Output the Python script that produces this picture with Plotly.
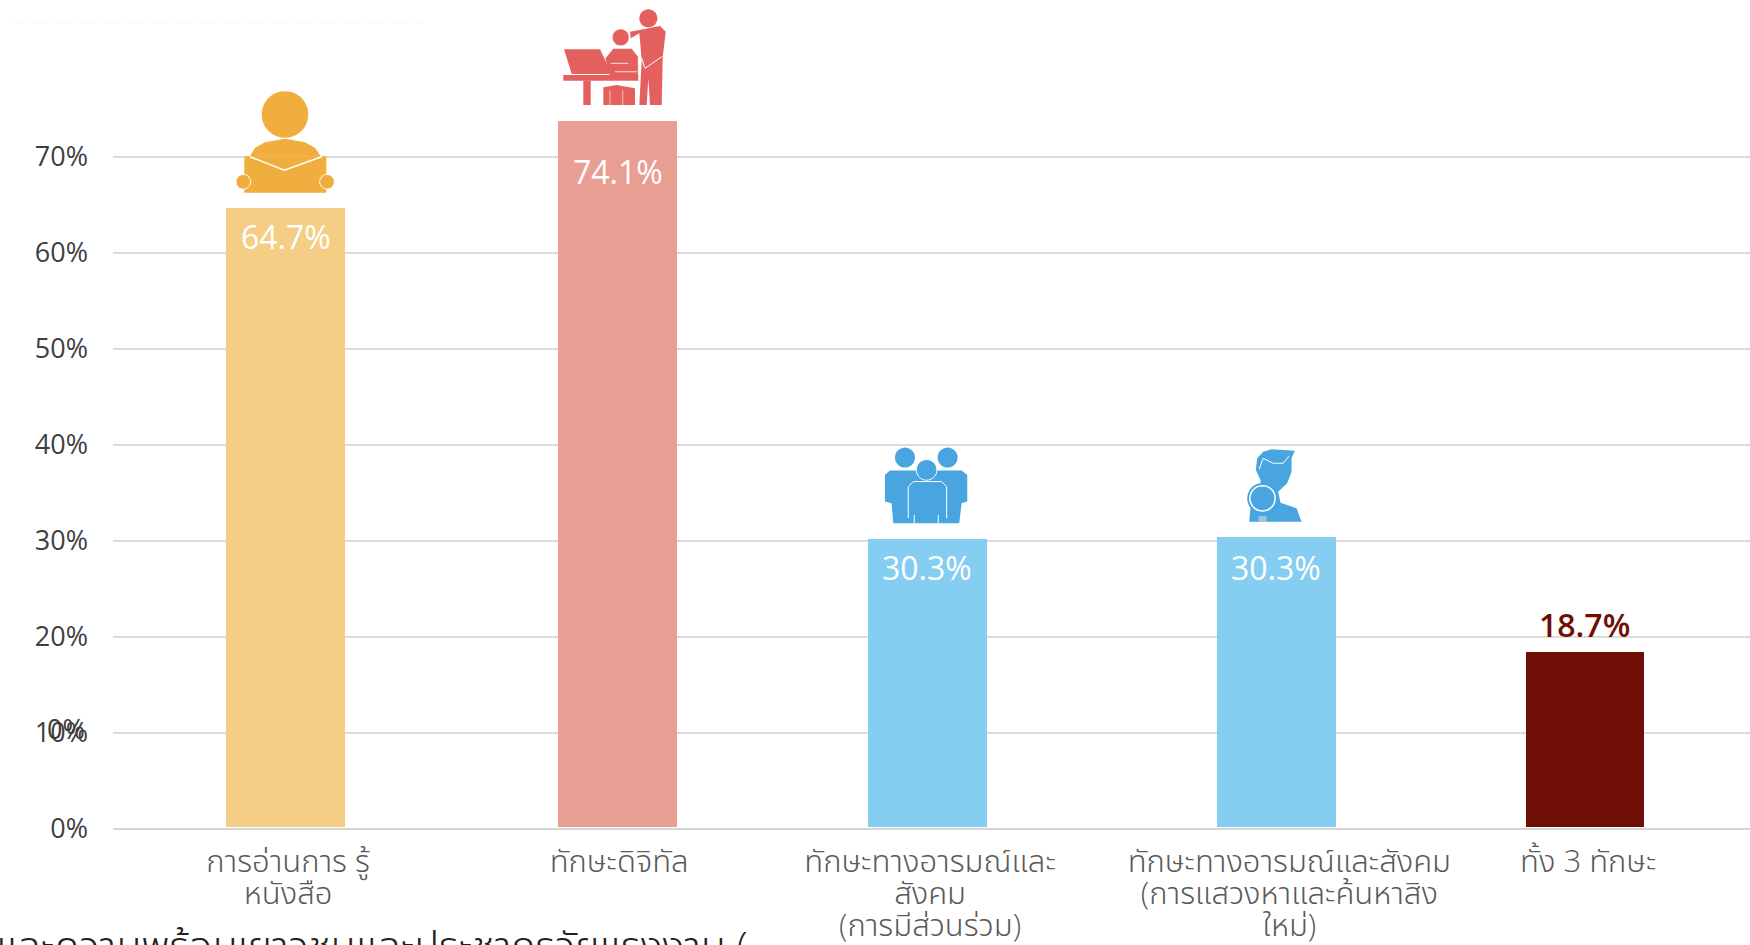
import numpy as np
import plotly.graph_objects as go

# ---------- data ----------
categories = [["การอ่านการ รู้", "หนังสือ"], ["ทักษะดิจิทัล"], ["ทักษะทางอารมณ์และ", "สังคม", "(การมีส่วนร่วม)"],
              ["ทักษะทางอารมณ์และสังคม", "(การแสวงหาและค้นหาสิง", "ใหม่)"], ["ทั้ง 3 ทักษะ"]]
value_labels = ["64.7%", "74.1%", "30.3%", "30.3%", "18.7%"]
bar_tops = [64.6, 73.7, 30.2, 30.4, 18.4]
y_ticks = [0, 10, 20, 30, 40, 50, 60, 70]
y_tick_labels = ["0%", "10%", "20%", "30%", "40%", "50%", "60%", "70%"]
slots = [0, 1.022, 1.976, 3.05, 4.0]
tick_slots = [0.008, 1.027, 1.984, 3.09, 4.01]

# ---------- style ----------
bar_colors = ["#f5cd84", "#e99e93", "#85cdf1", "#85cdf1", "#6e0e04"]
label_colors = ["#ffffff", "#ffffff", "#ffffff", "#ffffff", "#6e0e04"]
label_shifts = [-28, -50, -29, -31, 28]
label_weights = [500, 500, 500, 500, 600]
FONT = "Open Sans, Noto Sans, Noto Sans Thai, sans-serif"
BAR_GAP = 0.25
ORANGE, RED, BLUE = "#f0ae3e", "#e4605e", "#48a5e0"

fig = go.Figure(go.Bar(
    x=slots, y=np.array(bar_tops) - BAR_GAP, base=BAR_GAP, width=0.366,
    marker=dict(color=bar_colors, line=dict(width=0)), hoverinfo="skip", showlegend=False))

# ---------- value labels ----------
for x, top, txt, col, shift, wt in zip(slots, bar_tops, value_labels, label_colors, label_shifts, label_weights):
    fig.add_annotation(x=x, y=top, text=txt, showarrow=False, xanchor="center", yanchor="middle",
                       yshift=shift, font=dict(family=FONT, size=32, color=col, weight=wt))

# second "0%" printed over the 10% tick, as in the source
fig.add_annotation(xref="paper", x=0, y=10, yshift=4, xshift=-26, xanchor="right", yanchor="middle",
                   text="0%", showarrow=False, font=dict(family=FONT, size=27, color="#3a3a3a"))

# cropped caption at the bottom edge
fig.add_annotation(xref="paper", yref="paper", x=0.389, y=0, yanchor="top", xanchor="right", yshift=-86,
                   text="ทักษะและความพร้อมเยาวชนและประชากรวัยแรงงาน (", showarrow=False,
                   font=dict(family=FONT, size=41, color="#222222", weight=300))


# ---------- icons ----------
def pts_to_path(pts, origin, anchor, close=True):
    out = []
    for i, (zx, zy) in enumerate(pts):
        dx = origin[0] + zx / 3 - anchor[0]
        dy = anchor[1] - (origin[1] + zy / 3)
        out.append(f"{'M' if i == 0 else 'L'} {dx:.1f} {dy:.1f}")
    return " ".join(out) + (" Z" if close else "")


def circle(cx, cy, r):
    return [(cx + r * np.cos(t), cy + r * np.sin(t)) for t in np.linspace(0, 2 * np.pi, 36, endpoint=False)]


def rect(x0, y0, x1, y1):
    return [(x0, y0), (x1, y0), (x1, y1), (x0, y1)]


def add_icon(idx, origin, anchor, items):
    for pts, fill, stroke, sw, closed in items:
        fig.add_shape(type="path", xref="x", yref="y", xsizemode="pixel", ysizemode="pixel",
                      xanchor=slots[idx], yanchor=bar_tops[idx], layer="above",
                      path=pts_to_path(pts, origin, anchor, closed),
                      fillcolor=fill if fill else "rgba(0,0,0,0)",
                      line=dict(color=stroke if stroke else "rgba(0,0,0,0)", width=sw))


W = "#ffffff"
add_icon(0, (200, 0), (285.5, 209), [
    (circle(255, 345, 70), ORANGE, None, 0, True),
    ([(150, 470), (165, 445), (195, 428), (255, 418), (315, 428), (345, 445), (362, 470)], ORANGE, None, 0, True),
    (rect(133, 470, 379, 580), ORANGE, None, 0, True),
    (circle(130, 547, 22), ORANGE, W, 1, True),
    (circle(381, 547, 22), ORANGE, W, 1, True),
    ([(150, 472), (253, 512), (365, 472)], None, W, 1.5, False),
])
add_icon(1, (200, 0), (617.5, 121), [
    (circle(1345, 55, 27), RED, None, 0, True),
    ([(1290, 95), (1380, 78), (1397, 95), (1388, 170), (1385, 315), (1350, 315), (1345, 235), (1340, 315),
      (1318, 315), (1325, 180), (1318, 100), (1292, 115)], RED, None, 0, True),
    ([(1385, 170), (1335, 205), (1325, 175)], None, W, 1, False),
    (circle(1262, 112, 25), RED, W, 0.5, True),
    ([(1240, 145), (1295, 145), (1315, 170), (1315, 228), (1228, 228), (1215, 175)], RED, W, 0.8, True),
    ([(1092, 148), (1200, 148), (1235, 222), (1115, 222)], RED, None, 0, True),
    (rect(1090, 225, 1315, 242), RED, None, 0, True),
    (rect(1150, 242, 1172, 315), RED, None, 0, True),
    ([(1210, 262), (1250, 255), (1305, 265), (1305, 315), (1210, 315)], RED, None, 0, True),
    ([(1232, 190), (1285, 190)], None, W, 0.8, False),
    ([(1245, 215), (1310, 215)], None, W, 0.8, False),
    ([(1230, 270), (1230, 315)], None, W, 0.6, False),
    ([(1268, 270), (1268, 315)], None, W, 0.6, False),
])
add_icon(2, (850, 430), (927.5, 539), [
    (circle(165, 83, 30), BLUE, None, 0, True),
    (circle(293, 83, 30), BLUE, None, 0, True),
    ([(105, 135), (120, 122), (335, 122), (352, 135), (352, 215), (335, 220), (328, 280), (130, 280),
      (125, 220), (105, 215)], BLUE, None, 0, True),
    ([(175, 265), (175, 170), (190, 155), (275, 155), (290, 170), (290, 265)], BLUE, W, 1, False),
    ([(193, 255), (193, 280)], None, W, 1, False),
    ([(265, 255), (265, 280)], None, W, 1, False),
    (circle(230, 120, 31), BLUE, W, 1, True),
])
add_icon(3, (850, 430), (1276.5, 537), [
    ([(1218, 120), (1222, 85), (1240, 65), (1265, 58), (1335, 62), (1325, 85), (1325, 125), (1312, 160),
      (1285, 185), (1292, 218), (1340, 235), (1355, 275), (1198, 275), (1205, 200), (1232, 165), (1232, 150)],
     BLUE, None, 0, True),
    ([(1228, 118), (1240, 85), (1270, 100), (1300, 100), (1318, 78)], None, W, 1, False),
    (circle(1238, 205, 46), BLUE, None, 0, True),
    (circle(1238, 205, 38), BLUE, W, 1.5, True),
    (rect(1226, 258, 1250, 275), "#9fc5dd", None, 0, True),
])

# faint scan artefact near the top-left
fig.add_shape(type="line", xref="paper", yref="paper", x0=-0.06, x1=0.19, y0=0.972, y1=0.972,
              line=dict(color="#f9f7ee", width=1.5, dash="dot"), layer="below")

# tick text: base size sets the line spacing, the span sets the glyph size
tick_text = ["<br>".join(f'<span style="font-size:31px">{ln}</span>' for ln in lines) for lines in categories]

fig.update_layout(
    width=1750, height=945, autosize=False,
    margin=dict(l=113, r=0, t=0, b=115.5, pad=0),
    paper_bgcolor="#ffffff", plot_bgcolor="#ffffff", bargap=0,
    font=dict(family=FONT),
    xaxis=dict(range=[-0.531, 4.508], tickmode="array", tickvals=tick_slots, ticktext=tick_text,
               tickangle=0, showgrid=False, zeroline=False, showline=False, ticks="",
               ticklabelstandoff=17, tickfont=dict(family=FONT, size=24.6, color="#5a5a5a", weight=300)),
    yaxis=dict(range=[0, 86.3], tickmode="array", tickvals=y_ticks, ticktext=y_tick_labels,
               showgrid=True, gridcolor="#dcdcdc", gridwidth=1.5, zeroline=True, zerolinecolor="#d5d5d5",
               zerolinewidth=1.5, showline=False, ticks="", ticklabelstandoff=24,
               tickfont=dict(family=FONT, size=27, color="#3f3f3f")),
)

fig.write_html("out.html", config={"displayModeBar": False},
               post_script="document.body.style.margin='0';document.documentElement.style.overflow='hidden';")
